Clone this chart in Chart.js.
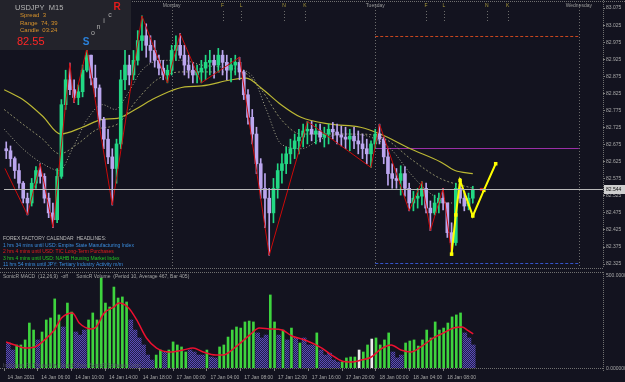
<!DOCTYPE html>
<html>
<head>
<meta charset="utf-8">
<script src="https://cdn.jsdelivr.net/npm/chart.js@4.4.1/dist/chart.umd.min.js"></script>
<style>
  html, body { margin: 0; padding: 0; background: #13131f; overflow: hidden; }
  #wrap { position: relative; width: 625px; height: 382px; }
  canvas { position: absolute; left: 0; }
  #price { top: 0; }
  #vol { top: 272px; }
</style>
</head>
<body>
<div id="wrap">
  <canvas id="price" width="625" height="272"></canvas>
  <canvas id="vol" width="625" height="110"></canvas>
</div>
<script>
// 30-minute bars, 14 Jan 02:00 .. 18 Jan 11:30
const firstOpen = 82.680;
const highs = [82.691,82.683,82.671,82.639,82.619,82.567,82.533,82.576,82.611,82.619,
  82.590,82.533,82.504,82.605,82.807,82.893,82.914,82.865,82.850,82.908,
  82.957,82.937,82.908,82.850,82.755,82.720,82.663,82.691,82.893,82.951,
  82.937,82.951,83.009,83.052,83.029,82.994,82.980,82.937,82.922,82.908,
  82.966,82.994,83.000,82.966,82.937,82.916,82.908,82.922,82.937,82.951,
  82.937,82.957,82.951,82.937,82.928,82.937,82.931,82.893,82.836,82.778,
  82.726,82.634,82.590,82.547,82.576,82.619,82.648,82.668,82.691,82.706,
  82.720,82.735,82.743,82.743,82.735,82.735,82.726,82.735,82.740,82.735,
  82.729,82.726,82.720,82.726,82.715,82.706,82.691,82.686,82.720,82.735,
  82.697,82.663,82.619,82.605,82.613,82.611,82.562,82.538,82.547,82.567,
  82.562,82.510,82.527,82.533,82.547,82.504,82.446,82.562,82.576,82.538,
  82.533,82.553];
const lows = [82.642,82.634,82.611,82.576,82.547,82.504,82.469,82.495,82.547,82.562,
  82.504,82.461,82.432,82.446,82.576,82.778,82.821,82.798,82.792,82.815,
  82.888,82.850,82.815,82.726,82.663,82.619,82.498,82.562,82.663,82.836,
  82.850,82.865,82.908,82.951,82.931,82.916,82.902,82.879,82.865,82.856,
  82.879,82.922,82.928,82.879,82.870,82.856,82.856,82.856,82.865,82.879,
  82.870,82.888,82.879,82.865,82.859,82.879,82.865,82.807,82.735,82.677,
  82.590,82.518,82.432,82.351,82.446,82.518,82.562,82.590,82.619,82.634,
  82.648,82.668,82.677,82.686,82.677,82.683,82.668,82.677,82.691,82.677,
  82.671,82.663,82.657,82.663,82.648,82.634,82.619,82.608,82.663,82.677,
  82.619,82.556,82.547,82.547,82.527,82.524,82.481,82.481,82.489,82.498,
  82.475,82.423,82.469,82.475,82.484,82.403,82.354,82.380,82.504,82.481,
  82.484,82.504];
const closes = [82.663,82.657,82.634,82.599,82.562,82.518,82.504,82.562,82.599,82.582,
  82.518,82.475,82.455,82.582,82.792,82.865,82.836,82.813,82.830,82.893,
  82.937,82.870,82.841,82.749,82.691,82.639,82.605,82.677,82.865,82.908,
  82.879,82.922,82.980,82.994,82.966,82.951,82.922,82.899,82.879,82.893,
  82.951,82.966,82.937,82.908,82.893,82.879,82.888,82.899,82.916,82.922,
  82.908,82.937,82.916,82.893,82.908,82.916,82.888,82.821,82.755,82.706,
  82.619,82.547,82.518,82.475,82.547,82.599,82.619,82.648,82.663,82.686,
  82.697,82.715,82.720,82.706,82.715,82.697,82.706,82.720,82.712,82.703,
  82.697,82.691,82.700,82.686,82.677,82.663,82.648,82.677,82.706,82.691,
  82.639,82.590,82.576,82.570,82.590,82.547,82.504,82.518,82.524,82.547,
  82.489,82.475,82.504,82.518,82.504,82.417,82.388,82.547,82.518,82.495,
  82.518,82.544];

// moving averages (bar index, price)
const maSlowBars = [0.5,4.9,9.6,13.8,19,23.7,27.2,31.4,35.4,39.3,43.1,47.1,54.1,57.6,61.1,65.8,70.5,77.5,84.5,89.2,96.3,103.3,106.8,111];
const maSlow = [82.836,82.807,82.758,82.706,82.726,82.749,82.752,82.778,82.807,82.830,82.844,82.847,82.865,82.870,82.841,82.792,82.755,82.735,82.726,82.706,82.663,82.625,82.599,82.590];
const maFastBars = [0.5,4.9,9.6,13.6,16.6,20.1,23.7,26.7,29.5,33,37.7,42.4,47.1,54.1,58.8,62.3,65.8,70.5,75.2,81,86.9,91.6,96.3,100.9,105.6,111];
const maFast = [82.720,82.663,82.619,82.599,82.663,82.749,82.792,82.778,82.821,82.893,82.922,82.922,82.908,82.899,82.879,82.778,82.677,82.663,82.691,82.706,82.697,82.663,82.590,82.533,82.504,82.504];
const maMidBars = [0.5,4.9,9.6,13.6,17.8,22.5,27.2,31.9,36.5,42.4,49.4,56.4,61.1,65.8,70.5,77.5,84.5,90.4,96.3,103.3,111];
const maMid = [82.778,82.735,82.691,82.648,82.677,82.720,82.735,82.807,82.865,82.888,82.888,82.888,82.836,82.749,82.706,82.706,82.706,82.691,82.634,82.576,82.547];

// zigzag swing points and projection
const zigBars = [0.7,6,9,12,16,17,20,26,33,39,42,47,56,63,72,87,89,96,99,101,104,106];
const zigPrices = [82.605,82.469,82.619,82.432,82.914,82.798,82.957,82.498,83.052,82.856,83.000,82.856,82.931,82.351,82.743,82.608,82.735,82.481,82.567,82.423,82.547,82.354];
const projBars = [106,107,108,111,113.6,116.4];
const projPrices = [82.354,82.469,82.570,82.466,82.541,82.619];

// previous day levels (drawn over Tuesday) and bid
const prevHigh = 82.994, prevMid = 82.665, prevLow = 82.328, bid = 82.544;
const levelFrom = 88, levelTo = 136;
const daySepBars = [40, 88, 136];
const dayNames = ['Monday', 'Tuesday', 'Wednesday'];
const sessionBars = [52, 56.4, 66.5, 71.4, 100, 104.2, 114.3, 119.2];
const sessionTags = ['F', 'L', 'N', 'K', 'F', 'L', 'N', 'K'];

const priceTicks = [82.325,82.375,82.425,82.475,82.525,82.575,82.625,82.675,82.725,82.775,82.825,82.875,82.925,82.975,83.025,83.075];

const xTickBars = [0,8,16,24,32,40,48,56,64,72,80,88,96,104];
const xTickLabels = ['14 Jan 2011','14 Jan 06:00','14 Jan 10:00','14 Jan 14:00','14 Jan 18:00',
  '17 Jan 00:00','17 Jan 04:00','17 Jan 08:00','17 Jan 12:00','17 Jan 16:00','17 Jan 20:00',
  '18 Jan 00:00','18 Jan 04:00','18 Jan 08:00'];

// volume per bar and its kind (g = green, p = purple, w = white)
const volume = [128,139,100,128,128,156,250,211,156,200,
  267,278,384,295,228,361,311,200,183,211,
  267,306,267,500,361,339,450,389,395,367,
  267,211,167,128,72,44,72,100,89,100,
  145,128,117,89,100,89,72,72,100,61,
  56,117,128,172,211,228,222,256,261,256,
  195,167,183,406,256,183,211,156,222,167,
  139,167,128,128,195,100,72,83,44,33,
  33,56,61,61,100,89,128,161,167,128,
  156,195,89,56,72,139,150,156,122,156,
  211,167,256,211,222,250,284,295,306,195,
  167,128];
const volKind = [
  'p','p','p','g','g','g','g','g','p','g',
  'g','g','g','g','p','g','g','p','p','p',
  'g','g','g','g','g','g','g','g','g','g',
  'p','p','p','p','p','p','g','g','p','g',
  'g','g','g','g','p','p','p','p','g','p',
  'p','g','g','g','g','g','g','g','g','g',
  'p','p','p','g','g','p','g','p','g','p',
  'g','p','p','p','g','p','p','p','p','p',
  'g','g','g','g','w','g','g','w','g','g',
  'g','g','p','p','p','g','g','g','g','g',
  'g','g','g','g','g','g','g','g','g','p',
  'p','p'];
const volAvgBars = [0.5,2.6,4.9,7.3,9.6,11.9,13.6,16.2,17.8,20.6,21.8,23.7,26,27.2,29.5,31.4,33.7,36.1,39.3,42.4,44.7,47.1,50.1,51.8,54.8,58.1,60.4,62.8,65.8,68.1,71.2,75.2,77.5,79.9,82.2,84.5,86.9,89.2,91.6,93.9,96.3,98.6,101.6,104,106.3,108.4,109.6,111];
const volAvg = [145,128,111,117,156,211,278,306,250,217,228,306,339,361,334,267,167,111,89,100,111,89,72,72,117,183,222,217,211,178,156,111,72,39,33,44,61,106,128,100,89,117,167,195,222,228,211,189];

Chart.defaults.font.family = "'Liberation Sans', Arial, sans-serif";
Chart.defaults.animation = false;

const opens = closes.map((c, i) => i === 0 ? firstOpen : closes[i - 1]);
const bullCol = '#22d884', bearCol = '#bba6ee';
const candleCol = closes.map((c, i) => c >= opens[i] ? bullCol : bearCol);
const pairs = (xs, ys) => xs.map((x, i) => ({ x: x, y: ys[i] }));

const X_MIN = 0.47, X_MAX = 141.7;

function hLine(ctx, x1, x2, y) { ctx.beginPath(); ctx.moveTo(x1, y); ctx.lineTo(x2, y); ctx.stroke(); }
function vLine(ctx, x, y1, y2) { ctx.beginPath(); ctx.moveTo(x, y1); ctx.lineTo(x, y2); ctx.stroke(); }
function txt(ctx, s, x, y, color, font, align) {
  ctx.fillStyle = color; ctx.font = font; ctx.textAlign = align || 'left'; ctx.textBaseline = 'middle';
  ctx.fillText(s, x, y);
}

const priceOverlay = {
  id: 'priceOverlay',
  beforeDatasetsDraw(chart) {
    const { ctx, chartArea: a, scales: { x, y } } = chart;
    ctx.save();
    ctx.lineWidth = 1;
    // day separators
    ctx.strokeStyle = '#6c6c6c'; ctx.setLineDash([1, 2]);
    daySepBars.forEach(b => { const px = Math.round(x.getPixelForValue(b)) + 0.5; vLine(ctx, px, a.top, a.bottom); });
    // session markers
    sessionBars.forEach(b => { const px = Math.round(x.getPixelForValue(b)) + 0.5; vLine(ctx, px, a.top + 7, a.top + 18); });
    // previous day range
    const x1 = x.getPixelForValue(levelFrom), x2 = x.getPixelForValue(levelTo);
    ctx.setLineDash([3, 2]); ctx.strokeStyle = '#c8461e';
    hLine(ctx, x1, x2, Math.round(y.getPixelForValue(prevHigh)) + 0.5);
    ctx.strokeStyle = '#3454c8';
    hLine(ctx, x1, x2, Math.round(y.getPixelForValue(prevLow)) + 0.5);
    ctx.setLineDash([]); ctx.strokeStyle = '#9a2fa6';
    hLine(ctx, x1, x2, Math.round(y.getPixelForValue(prevMid)) + 0.5);
    ctx.restore();
  },
  afterDatasetsDraw(chart) {
    const { ctx, chartArea: a, scales: { y } } = chart;
    ctx.save();
    const by = Math.round(y.getPixelForValue(bid)) + 0.5;
    ctx.strokeStyle = '#b9b9b9'; ctx.lineWidth = 1;
    hLine(ctx, a.left, a.right, by);
    ctx.fillStyle = '#cfcfcf'; ctx.fillRect(a.right + 1, by - 4.5, 21, 9);
    txt(ctx, bid.toFixed(3), a.right + 3, by, '#111', '5px "Liberation Sans"');
    ctx.restore();
  },
  afterDraw(chart) {
    const { ctx, chartArea: a, scales: { x } } = chart;
    ctx.save();
    // frame
    ctx.strokeStyle = '#707070'; ctx.setLineDash([1, 1]); ctx.lineWidth = 1;
    hLine(ctx, 0, 625, 1.5);
    hLine(ctx, 0, a.right, a.bottom + 0.5);
    vLine(ctx, a.right + 0.5, 0, a.bottom);
    ctx.setLineDash([]);
    // top labels
    dayNames.forEach((d, i) => txt(ctx, d, x.getPixelForValue(daySepBars[i]), 5.5, '#9c9c9c', '5px "Liberation Sans"', 'center'));
    sessionTags.forEach((s, i) => txt(ctx, s, x.getPixelForValue(sessionBars[i]), 5.5, '#a8983a', '5px "Liberation Sans"', 'center'));
    // info box
    ctx.fillStyle = '#23232b'; ctx.fillRect(0, 0, 131, 50);
    txt(ctx, 'USDJPY  M15', 15, 7.5, '#b4b4b4', '7.5px "Liberation Sans"');
    txt(ctx, 'Spread  3', 20, 15.5, '#d6922c', '6px "Liberation Sans"');
    txt(ctx, 'Range  74, 39', 20, 23, '#d6922c', '6px "Liberation Sans"');
    txt(ctx, 'Candle  03:24', 20, 30.5, '#d6922c', '6px "Liberation Sans"');
    txt(ctx, '82.55', 17, 42, '#ff2626', '11px "Liberation Sans"');
    txt(ctx, 'S', 86, 42, '#2a82dc', 'bold 10px "Liberation Sans"', 'center');
    txt(ctx, 'o', 93, 33, '#b0b0b0', '7px "Liberation Sans"', 'center');
    txt(ctx, 'n', 98.5, 27, '#b0b0b0', '7px "Liberation Sans"', 'center');
    txt(ctx, 'i', 104, 21, '#b0b0b0', '7px "Liberation Sans"', 'center');
    txt(ctx, 'c', 110, 15, '#b0b0b0', '7px "Liberation Sans"', 'center');
    txt(ctx, 'R', 117, 7, '#e41c1c', 'bold 10px "Liberation Sans"', 'center');
    // calendar headlines
    const f = '5px "Liberation Sans"';
    txt(ctx, 'FOREX FACTORY CALENDAR  HEADLINES:', 3, 238.5, '#bcbcbc', f);
    txt(ctx, '1 hrs 34 mins until USD: Empire State Manufacturing Index', 3, 245.5, '#3a8ee0', f);
    txt(ctx, '2 hrs 4 mins until USD: TIC Long-Term Purchases', 3, 252, '#e41c1c', f);
    txt(ctx, '3 hrs 4 mins until USD: NAHB Housing Market Index', 3, 258.5, '#22c622', f);
    txt(ctx, '11 hrs 54 mins until JPY: Tertiary Industry Activity m/m', 3, 264.5, '#3a8ee0', f);
    ctx.restore();
  }
};

new Chart(document.getElementById('price'), {
  type: 'bar',
  data: {
    datasets: [
      { type: 'line', label: 'MA slow', data: pairs(maSlowBars, maSlow), borderColor: '#bcb834', borderWidth: 1.2,
        pointRadius: 0, cubicInterpolationMode: 'monotone', order: 9 },
      { type: 'line', label: 'MA mid', data: pairs(maMidBars, maMid), borderColor: '#8e8e6a', borderWidth: 1,
        borderDash: [2, 2], pointRadius: 0, cubicInterpolationMode: 'monotone', order: 9 },
      { type: 'line', label: 'MA fast', data: pairs(maFastBars, maFast), borderColor: '#a8a890', borderWidth: 1,
        borderDash: [1, 2], pointRadius: 0, cubicInterpolationMode: 'monotone', order: 9 },
      { label: 'wick', data: closes.map((c, i) => ({ x: i, y: [lows[i], highs[i]] })),
        backgroundColor: candleCol, barThickness: 1, grouped: false, order: 6 },
      { label: 'body', data: closes.map((c, i) => ({ x: i, y: [opens[i], c] })),
        backgroundColor: candleCol, barThickness: 3, minBarLength: 1, grouped: false, order: 5 },
      { type: 'line', label: 'zigzag', data: pairs(zigBars, zigPrices), borderColor: '#cc0a0a', borderWidth: 1,
        pointRadius: 0, tension: 0, order: 2 },
      { type: 'line', label: 'projection', data: pairs(projBars, projPrices), borderColor: '#ffff00', borderWidth: 2,
        pointStyle: 'rect', pointRadius: 2.5, pointBackgroundColor: '#ffff00', pointBorderWidth: 0, tension: 0, order: 1 },
      { type: 'line', label: 'bid mark', data: [{ x: 113, y: bid }], showLine: false, pointStyle: 'rect',
        pointRadius: 2, pointBackgroundColor: '#e01818', pointBorderWidth: 0, order: 0 }
    ]
  },
  options: {
    responsive: false,
    devicePixelRatio: 1,
    layout: { padding: { top: 3, bottom: 1, left: 0, right: 0 } },
    plugins: { legend: { display: false }, tooltip: { enabled: false } },
    scales: {
      x: { type: 'linear', display: false, min: X_MIN, max: X_MAX, offset: false, grid: { offset: false } },
      y: {
        position: 'right', min: 82.3135, max: 83.087,
        afterBuildTicks: s => { s.ticks = priceTicks.map(v => ({ value: v })); },
        afterFit: s => { s.width = 22; },
        grid: { drawOnChartArea: false, tickLength: 2, color: '#808080' },
        border: { display: false },
        ticks: { color: '#a8a8a8', font: { size: 5 }, padding: 1, callback: v => Number(v).toFixed(3) }
      }
    }
  },
  plugins: [priceOverlay]
});

function dotPattern() {
  const c = document.createElement('canvas');
  c.width = 2; c.height = 2;
  const g = c.getContext('2d');
  g.fillStyle = '#221e48'; g.fillRect(0, 0, 2, 2);
  g.fillStyle = '#5a4cb8'; g.fillRect(0, 0, 1, 1); g.fillRect(1, 1, 1, 1);
  return g.createPattern(c, 'repeat');
}
const volOf = k => volume.map((v, i) => ({ x: i, y: v })).filter((d, i) => volKind[i] === k);

const volOverlay = {
  id: 'volOverlay',
  afterDraw(chart) {
    const { ctx, chartArea: a } = chart;
    ctx.save();
    ctx.strokeStyle = '#707070'; ctx.setLineDash([1, 1]); ctx.lineWidth = 1;
    hLine(ctx, 0, a.right, 0.5);
    hLine(ctx, 0, a.right, a.bottom + 0.5);
    vLine(ctx, a.right + 0.5, 0, a.bottom + 3);
    ctx.setLineDash([]);
    const f = '5px "Liberation Sans"';
    txt(ctx, 'SonicR MACD  (12,26,9)  -off      SonicR Volume  (Period 10, Average 467, Bar 405)', 3, 5, '#a4a4a4', f);
    txt(ctx, 'Indicators Fit These 4 by SonicR Free, SonicR Software Corp)', 3, a.bottom - 2, '#565668', f);
    txt(ctx, '500.0000', a.right + 3, 3.5, '#a8a8a8', f);
    txt(ctx, '0.000000', a.right + 3, a.bottom + 1, '#a8a8a8', f);
    ctx.restore();
  }
};

new Chart(document.getElementById('vol'), {
  type: 'bar',
  data: {
    datasets: [
      { type: 'line', label: 'average', data: pairs(volAvgBars, volAvg), borderColor: '#ec1030', borderWidth: 1.5,
        pointRadius: 0, cubicInterpolationMode: 'monotone', order: 0 },
      { label: 'purple', data: volOf('p'), backgroundColor: dotPattern(), barThickness: 4, grouped: false, order: 3 },
      { label: 'green', data: volOf('g'), backgroundColor: '#3ed43e', barThickness: 2, grouped: false, order: 2 },
      { label: 'white', data: volOf('w'), backgroundColor: '#ececec', barThickness: 2, grouped: false, order: 2 }
    ]
  },
  options: {
    responsive: false,
    devicePixelRatio: 1,
    layout: { padding: { top: 1, bottom: 0, left: 0, right: 0 } },
    plugins: { legend: { display: false }, tooltip: { enabled: false } },
    scales: {
      x: {
        type: 'linear', min: X_MIN, max: X_MAX, offset: false,
        afterBuildTicks: s => { s.ticks = xTickBars.map(v => ({ value: v })); },
        afterFit: s => { s.height = 14; },
        grid: { drawOnChartArea: false, tickLength: 3, color: '#808080', offset: false },
        border: { display: false },
        ticks: { autoSkip: false, maxRotation: 0, align: 'start', labelOffset: 3.5, padding: 4,
          color: '#a8a8a8', font: { size: 5 },
          callback: v => xTickLabels[xTickBars.indexOf(v)] }
      },
      y: {
        position: 'right', min: 0, max: 528,
        afterFit: s => { s.width = 22; },
        grid: { display: false }, border: { display: false },
        ticks: { display: false }
      }
    }
  },
  plugins: [volOverlay]
});
</script>
</body>
</html>
